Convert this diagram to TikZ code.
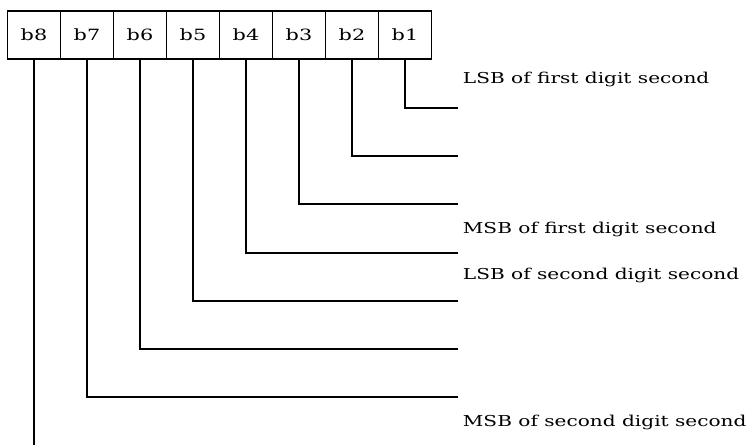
\documentclass[tikz,border=0pt]{standalone}
\usepackage{fontspec}
\setmainfont[FakeStretch=1.34]{DejaVu Serif}

\tikzset{
  bitcell/.style={draw, minimum width=53pt, minimum height=48pt, inner sep=0pt,
    font=\fontsize{15.5}{17}\selectfont},
  bitlabel/.style={anchor=west, inner sep=0pt, font=\fontsize{15}{17}\selectfont},
}

\begin{document}
\begin{tikzpicture}[x=1pt, y=-1pt, line width=1.8pt]

  \useasboundingbox (0,0) rectangle (750,445);

  % ---- the eight bit cells, b8 on the left ----
  \foreach \k/\lab in {0/b8,1/b7,2/b6,3/b5,4/b4,5/b3,6/b2,7/b1} {
    \node[bitcell] (\lab) at ({34+53*\k},35) {\lab};
  }

  % ---- leads: down from each cell, then right ----
  \foreach \lab/\yy in {b1/108,b2/156,b3/204,b4/253,b5/301,b6/349,b7/397} {
    \coordinate (end-\lab) at (458,\yy);
    \draw (\lab.south) |- (end-\lab);
  }
  \coordinate (end-b8) at (34,445);
  \draw (b8.south) -- (end-b8);

  % ---- descriptions ----
  \node[bitlabel] (lsb-first)  at (462,79)  {LSB of first digit second};
  \node[bitlabel] (msb-first)  at (462,229) {MSB of first digit second};
  \node[bitlabel] (lsb-second) at (462,275) {LSB of second digit second};
  \node[bitlabel] (msb-second) at (462,422) {MSB of second digit second};

\end{tikzpicture}
\end{document}
